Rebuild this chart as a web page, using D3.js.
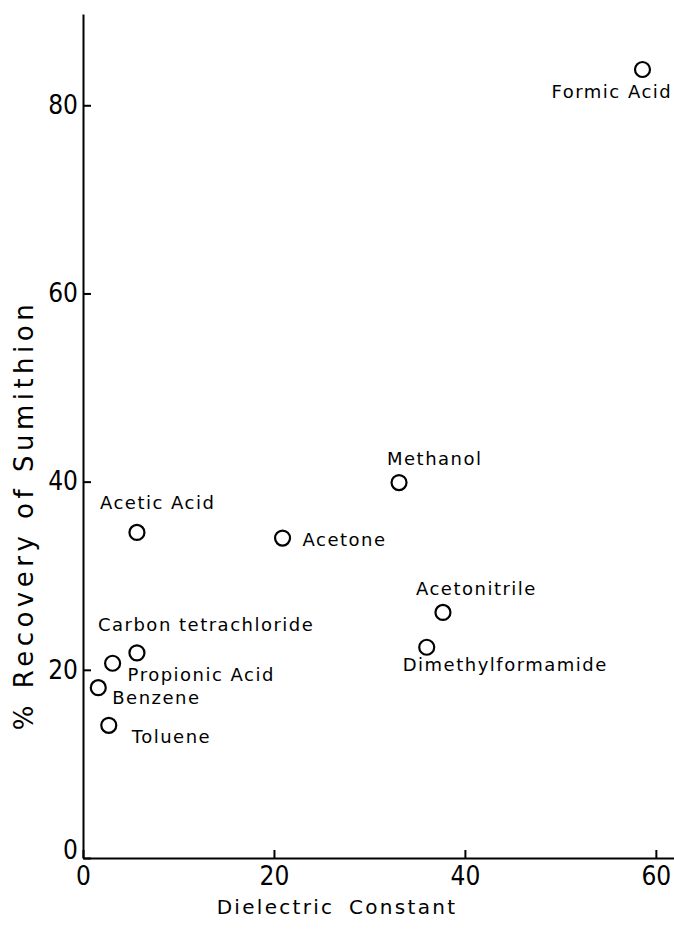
<!DOCTYPE html>
<html>
<head>
<meta charset="utf-8">
<script src="https://cdn.jsdelivr.net/npm/d3@7"></script>
<style>
  body { margin: 0; background: #fff; }
  svg { display: block; }
</style>
</head>
<body>
<script>
// solvents, dielectric constant (x) and % recovery (y)
var solvents = ["Formic Acid", "Methanol", "Acetic Acid", "Acetone", "Acetonitrile",
  "Dimethylformamide", "Carbon tetrachloride", "Propionic Acid", "Benzene", "Toluene"];
var dielectric = [58.6, 33.1, 5.65, 20.9, 37.7, 36.0, 5.65, 3.1, 1.6, 2.7];
var recovery = [83.8, 39.9, 34.6, 34.0, 26.1, 22.4, 21.8, 20.7, 18.1, 14.1];
var xTicks = [0, 20, 40, 60];
var yTicks = [0, 20, 40, 60, 80];

// label placement relative to each circle (px)
var labelDx = [-91, -12, -37, 20, -27, -24, -39, 15, 14, 23];
var labelDy = [28, -18, -23, 8, -17, 24, -22, 18, 16, 18];

var width = 674, height = 931;

var svg = d3.select("body")
  .append("svg")
  .attr("width", width)
  .attr("height", height);

var x = d3.scaleLinear().domain([0, 61.9]).range([83, 674]);
var y = d3.scaleLinear().domain([0, 89.7]).range([858, 14]);

var tickFont = "'DejaVu Sans Condensed', 'DejaVu Sans', sans-serif";

// x axis, ticks pointing inward
var xAxis = svg.append("g")
  .attr("transform", "translate(0," + y(0) + ")")
  .call(d3.axisBottom(x).tickValues(xTicks).tickSizeInner(-8).tickSizeOuter(0).tickPadding(6)
    .tickFormat(d3.format("d")));

// y axis
var yAxis = svg.append("g")
  .attr("transform", "translate(" + x(0) + ",0)")
  .call(d3.axisLeft(y).tickValues(yTicks).tickSizeInner(-8).tickSizeOuter(0).tickPadding(5)
    .tickFormat(d3.format("d")));

[xAxis, yAxis].forEach(function(ax) {
  ax.select(".domain").attr("stroke", "#000").attr("stroke-width", 2);
  ax.selectAll(".tick line").attr("stroke", "#000").attr("stroke-width", 2);
  ax.selectAll(".tick text")
    .attr("fill", "#000")
    .style("font-family", tickFont)
    .style("font-size", "26px");
});
xAxis.selectAll(".tick text").attr("dy", "0.8em");
yAxis.selectAll(".tick text").filter(function(d) { return d === 0; }).attr("dy", "0.0em");

// axis titles
svg.append("text")
  .attr("x", 337)
  .attr("y", 914)
  .attr("text-anchor", "middle")
  .style("font-family", "'DejaVu Sans', sans-serif")
  .style("font-size", "20px")
  .style("letter-spacing", "2.3px")
  .style("word-spacing", "6px")
  .text("Dielectric Constant");

svg.append("text")
  .attr("transform", "translate(33,515) rotate(-90)")
  .attr("text-anchor", "middle")
  .style("font-family", "'DejaVu Sans', sans-serif")
  .style("font-size", "26px")
  .style("letter-spacing", "4.5px")
  .text("% Recovery of Sumithion");

// points
var idx = d3.range(solvents.length);

svg.selectAll("circle.pt")
  .data(idx)
  .enter()
  .append("circle")
  .attr("class", "pt")
  .attr("cx", function(i) { return x(dielectric[i]); })
  .attr("cy", function(i) { return y(recovery[i]); })
  .attr("r", 7.5)
  .attr("fill", "none")
  .attr("stroke", "#000")
  .attr("stroke-width", 2.2);

svg.selectAll("text.lbl")
  .data(idx)
  .enter()
  .append("text")
  .attr("class", "lbl")
  .attr("x", function(i) { return x(dielectric[i]) + labelDx[i]; })
  .attr("y", function(i) { return y(recovery[i]) + labelDy[i]; })
  .style("font-family", "'DejaVu Sans', sans-serif")
  .style("font-size", "18px")
  .style("letter-spacing", "1.5px")
  .text(function(i) { return solvents[i]; });
</script>
</body>
</html>
